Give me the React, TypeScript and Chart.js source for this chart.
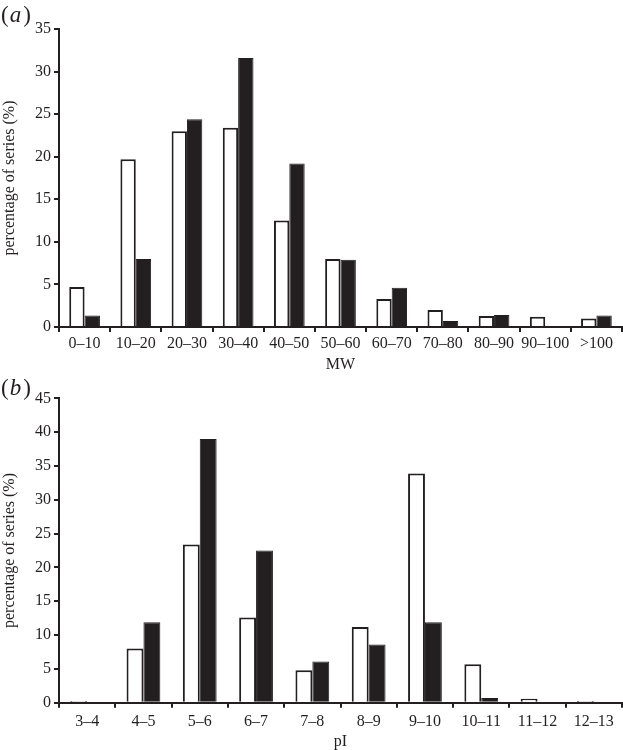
import React, { useEffect, useRef } from "react";
import { Chart, registerables } from "chart.js";

Chart.register(...registerables);

const mwCategories = ["0–10", "10–20", "20–30", "30–40", "40–50", "50–60", "60–70", "70–80", "80–90", "90–100", ">100"];
const mwOpen = [4.7, 19.7, 23.0, 23.4, 12.5, 8.0, 3.3, 2.0, 1.3, 1.2, 1.0];
const mwFilled = [1.35, 8.0, 24.4, 31.6, 19.2, 7.9, 4.6, 0.7, 1.4, 0, 1.35];

const piCategories = ["3–4", "4–5", "5–6", "6–7", "7–8", "8–9", "9–10", "10–11", "11–12", "12–13"];
const piOpen = [0.25, 8.0, 23.4, 12.6, 4.8, 11.2, 33.9, 5.7, 0.6, 0.25];
const piFilled = [0, 11.9, 39.0, 22.5, 6.1, 8.6, 11.9, 0.7, 0, 0];

const INK = "#231f20";
const FONT = "'Liberation Serif', 'Times New Roman', serif";

function makeConfig(opts: {
  labels: string[];
  open: number[];
  filled: number[];
  yMax: number;
  xTitle: string;
  panel: string;
  padTop: number;
  xHeight: number;
  tickPad: number;
  titlePad: number;
  panelY: number;
}) {
  const panelPlugin = {
    id: "panelLabel",
    afterDraw(chart: any) {
      const ctx = chart.ctx;
      ctx.save();
      ctx.fillStyle = INK;
      ctx.textBaseline = "middle";
      ctx.textAlign = "left";
      ctx.font = `23px ${FONT}`;
      const x0 = 1;
      ctx.fillText("(", x0, opts.panelY);
      const w1 = ctx.measureText("(").width;
      ctx.font = `italic 23px ${FONT}`;
      ctx.fillText(opts.panel, x0 + w1 + 1, opts.panelY);
      const w2 = ctx.measureText(opts.panel).width;
      ctx.font = `23px ${FONT}`;
      ctx.fillText(")", x0 + w1 + w2 + 3, opts.panelY);
      ctx.restore();
    },
  };
  return {
    type: "bar" as const,
    data: {
      labels: opts.labels,
      datasets: [
        {
          data: opts.open,
          backgroundColor: "#ffffff",
          borderColor: INK,
          borderWidth: 2,
          categoryPercentage: 0.6,
          barPercentage: 1.0,
        },
        {
          data: opts.filled,
          backgroundColor: INK,
          borderColor: INK,
          borderWidth: 1,
          categoryPercentage: 0.6,
          barPercentage: 1.0,
        },
      ],
    },
    options: {
      responsive: false,
      animation: false as const,
      devicePixelRatio: 1,
      layout: { padding: { top: opts.padTop, left: 0, right: 1, bottom: 0 } },
      plugins: {
        legend: { display: false },
        tooltip: { enabled: false },
      },
      scales: {
        x: {
          grid: {
            display: true,
            drawOnChartArea: false,
            drawTicks: true,
            tickLength: 5,
            color: INK,
            lineWidth: 2,
            offset: true,
          },
          border: { display: true, color: INK, width: 2 },
          ticks: {
            color: INK,
            padding: opts.tickPad,
            maxRotation: 0,
            autoSkip: false,
            font: { family: FONT, size: 16, lineHeight: 1 },
          },
          title: {
            display: true,
            text: opts.xTitle,
            color: INK,
            padding: { top: 0, bottom: opts.titlePad },
            font: { family: FONT, size: 16, lineHeight: 1 },
          },
          afterFit(scale: any) {
            scale.height = opts.xHeight;
          },
        },
        y: {
          min: 0,
          max: opts.yMax,
          grid: {
            display: true,
            drawOnChartArea: false,
            drawTicks: true,
            tickLength: 5,
            color: INK,
            lineWidth: 2,
          },
          border: { display: true, color: INK, width: 2 },
          ticks: {
            stepSize: 5,
            color: INK,
            padding: 3,
            font: { family: FONT, size: 16, lineHeight: 1 },
          },
          title: {
            display: true,
            text: "percentage of series (%)",
            color: INK,
            padding: { top: 0, bottom: 0 },
            font: { family: FONT, size: 16, lineHeight: 1.2 },
          },
          afterFit(scale: any) {
            scale.width = 59;
          },
        },
      },
    },
    plugins: [panelPlugin],
  };
}

function BarPanel(props: { config: any; top: number; height: number }) {
  const ref = useRef<HTMLCanvasElement | null>(null);
  useEffect(() => {
    if (!ref.current) return;
    const chart = new Chart(ref.current, props.config);
    return () => chart.destroy();
  }, []);
  return (
    <canvas
      ref={ref}
      width={623}
      height={props.height}
      style={{ position: "absolute", left: 0, top: props.top, width: 623, height: props.height }}
    />
  );
}

export default function App() {
  const topConfig = makeConfig({
    labels: mwCategories,
    open: mwOpen,
    filled: mwFilled,
    yMax: 35,
    xTitle: "MW",
    panel: "a",
    padTop: 29,
    xHeight: 48,
    tickPad: 4,
    titlePad: 2.5,
    panelY: 16,
  });
  const bottomConfig = makeConfig({
    labels: piCategories,
    open: piOpen,
    filled: piFilled,
    yMax: 45,
    xTitle: "pI",
    panel: "b",
    padTop: 23.3,
    xHeight: 47.3,
    tickPad: 6.3,
    titlePad: 0,
    panelY: 14,
  });
  return (
    <div style={{ position: "absolute", left: 0, top: 0, width: 623, height: 750, background: "#ffffff", overflow: "hidden" }}>
      <BarPanel config={topConfig} top={0} height={375} />
      <BarPanel config={bottomConfig} top={375} height={375} />
    </div>
  );
}
